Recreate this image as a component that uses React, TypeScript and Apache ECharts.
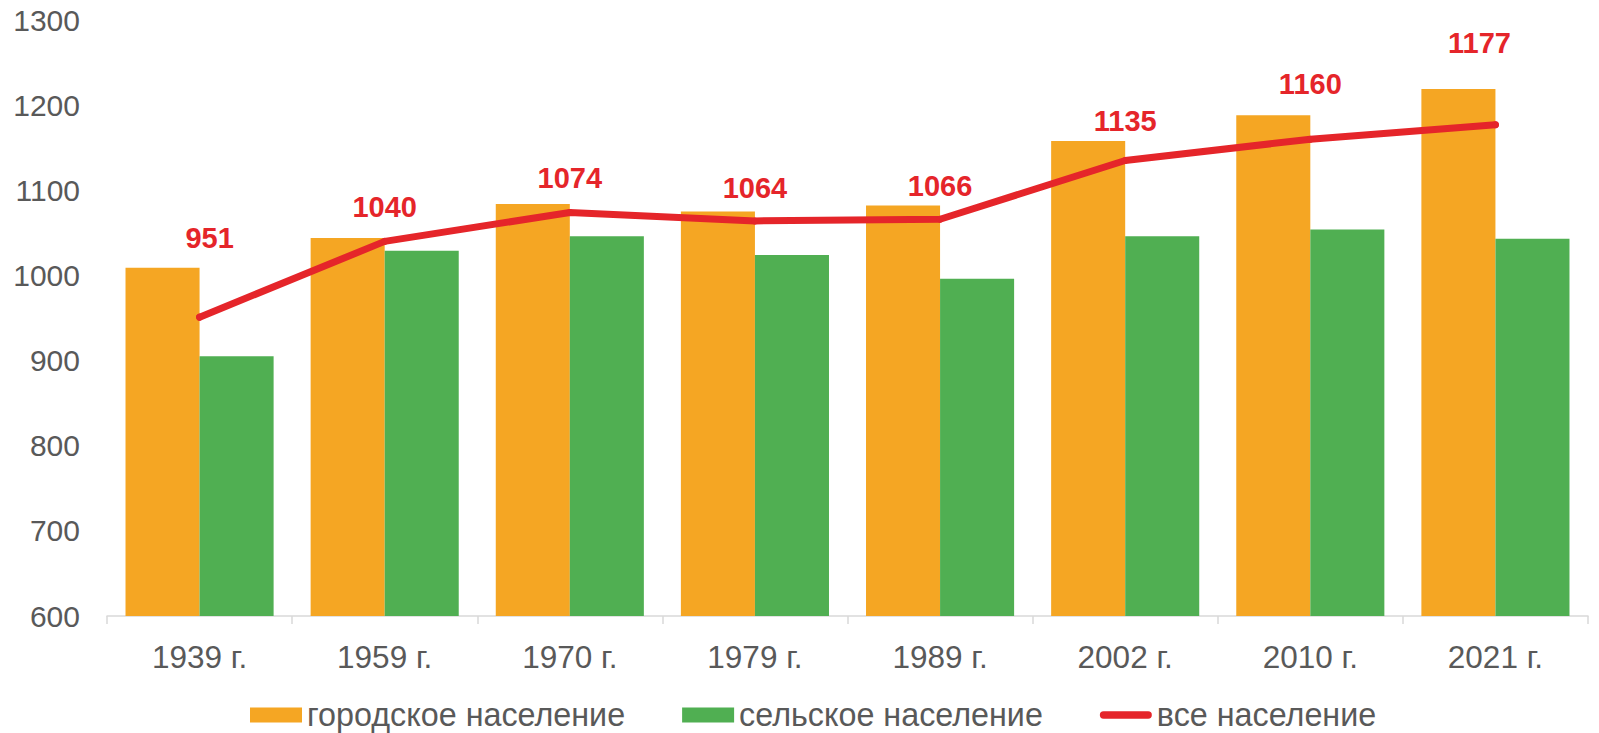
import React, { useEffect, useRef } from "react";
import * as echarts from "echarts";

const categories = ["1939 г.", "1959 г.", "1970 г.", "1979 г.", "1989 г.", "2002 г.", "2010 г.", "2021 г."];
const urban = [1009, 1044, 1084, 1075, 1082, 1158, 1188, 1219];
const rural = [905, 1029, 1046, 1024, 996, 1046, 1054, 1043];
const total = [951, 1040, 1074, 1064, 1066, 1135, 1160, 1177];
const labelOffsets: [number, number][] = [
  [10, -79], [0, -34], [0, -34], [0, -33], [0, -33], [0, -39], [0, -55], [-16, -82],
];
const seriesNames = ["городское население", "сельское население", "все население"];

const FONT = "'Liberation Sans', Arial, sans-serif";
const GRAY = "#595959";
const ORANGE = "#F5A623";
const GREEN = "#50AF52";
const RED = "#E5252A";

export default function App() {
  const ref = useRef<HTMLDivElement>(null);
  useEffect(() => {
    if (!ref.current) return;
    const chart = echarts.init(ref.current, null, { renderer: "svg" });
    chart.setOption({
      animation: false,
      textStyle: { fontFamily: FONT },
      grid: { left: 107, right: 11, top: 20, bottom: 117, containLabel: false },
      legend: {
        left: 245,
        top: 694,
        itemWidth: 52,
        itemHeight: 15,
        itemGap: 57,
        textStyle: { fontFamily: FONT, fontSize: 32.3, color: GRAY },
        data: [
          { name: seriesNames[0], icon: "rect" },
          { name: seriesNames[1], icon: "rect" },
          { name: seriesNames[2], icon: "path://M4,0 H52 A4,4 0 0 1 52,8 H4 A4,4 0 0 1 4,0 Z" },
        ],
      },
      xAxis: {
        type: "category",
        data: categories,
        boundaryGap: true,
        axisLine: { show: true, lineStyle: { color: "#D9D9D9", width: 1.5 } },
        axisTick: { show: true, length: 8, lineStyle: { color: "#D9D9D9", width: 1.5 } },
        axisLabel: { color: GRAY, fontSize: 31.5, fontFamily: FONT, margin: 25 },
        splitLine: { show: false },
      },
      yAxis: {
        type: "value",
        min: 600,
        max: 1300,
        interval: 100,
        axisLine: { show: false },
        axisTick: { show: false },
        splitLine: { show: false },
        axisLabel: {
          color: GRAY,
          fontSize: 30,
          fontFamily: FONT,
          margin: 27,
          formatter: (v: number) => String(v),
        },
      },
      series: [
        {
          name: seriesNames[0],
          type: "bar",
          data: urban,
          barGap: "0%",
          barCategoryGap: "20%",
          itemStyle: { color: ORANGE },
        },
        {
          name: seriesNames[1],
          type: "bar",
          data: rural,
          barGap: "0%",
          barCategoryGap: "20%",
          itemStyle: { color: GREEN },
        },
        {
          name: seriesNames[2],
          type: "line",
          data: total.map((v, i) => ({
            value: v,
            label: { offset: labelOffsets[i] },
          })),
          symbol: "circle",
          symbolSize: 7,
          showSymbol: true,
          itemStyle: { color: RED },
          lineStyle: { color: RED, width: 7, join: "round", cap: "round" },
          label: {
            show: true,
            position: "inside",
            color: RED,
            fontWeight: "bold",
            fontSize: 29,
            fontFamily: FONT,
          },
          z: 5,
        },
      ],
    });
    return () => chart.dispose();
  }, []);
  return (
    <div
      ref={ref}
      style={{ position: "fixed", left: 0, top: 0, width: 1599, height: 733, background: "#fff" }}
    />
  );
}
